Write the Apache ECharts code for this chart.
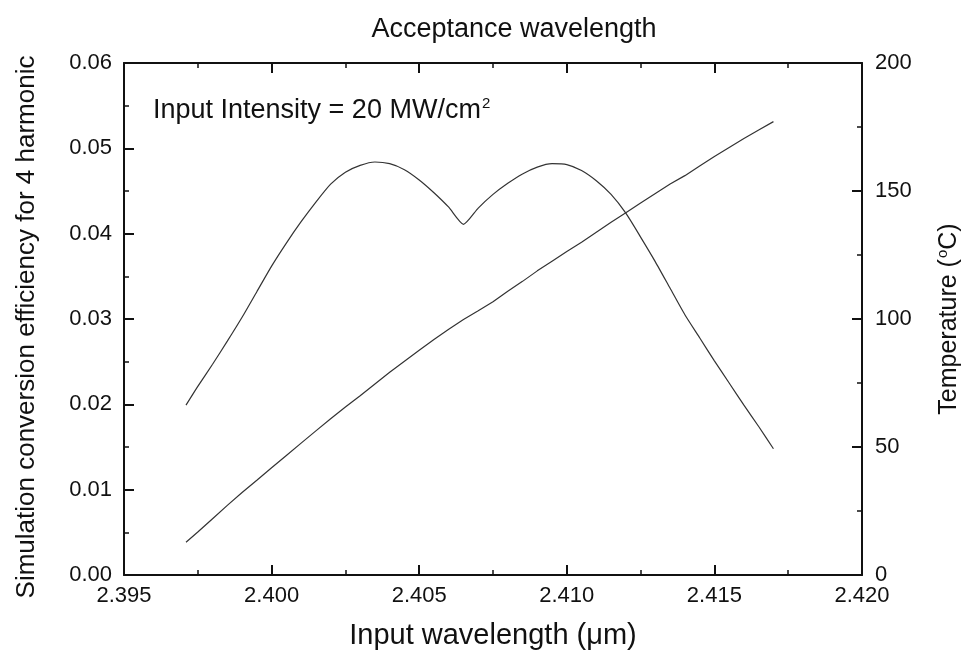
<!DOCTYPE html>
<html>
<head>
<meta charset="utf-8">
<script src="https://cdn.jsdelivr.net/npm/echarts@6/dist/echarts.min.js"></script>
<style>
  html, body { margin: 0; padding: 0; background: #fff; }
  #chart { width: 970px; height: 655px; }
</style>
</head>
<body>
<div id="chart"></div>
<script>
// data
const wavelength = [
  2.3971, 2.3975, 2.3980, 2.3985, 2.3990, 2.3995, 2.4000, 2.4005, 2.4010, 2.4015,
  2.4020, 2.4025, 2.4030, 2.4035, 2.4040, 2.4045, 2.4050, 2.4055, 2.4060, 2.4065,
  2.4070, 2.4075, 2.4080, 2.4085, 2.4090, 2.4095, 2.4100, 2.4105, 2.4110, 2.4115,
  2.4120, 2.4125, 2.4130, 2.4135, 2.4140, 2.4145, 2.4150, 2.4155, 2.4160, 2.4165,
  2.4170
];
const efficiency = [
  0.0199, 0.0221, 0.0247, 0.0274, 0.0302, 0.0332, 0.0362, 0.0389, 0.0414, 0.0437,
  0.0458, 0.0472, 0.0480, 0.0484, 0.0482, 0.0475, 0.0463, 0.0448, 0.0431, 0.0411,
  0.0430, 0.0446, 0.0459, 0.0470, 0.0478, 0.0482, 0.0481, 0.0474, 0.0462, 0.0446,
  0.0424, 0.0396, 0.0367, 0.0336, 0.0305, 0.0278, 0.0251, 0.0225, 0.0199, 0.0174,
  0.0148
];
const temperature = [
  12.8, 16.8, 22.0, 27.2, 32.2, 37.0, 41.9, 46.7, 51.5, 56.3,
  61.0, 65.6, 70.0, 74.6, 79.2, 83.5, 87.8, 92.0, 96.0, 99.8,
  103.2, 106.7, 110.8, 114.7, 118.8, 122.6, 126.4, 130.0, 133.9, 137.8,
  141.5, 145.3, 149.0, 152.7, 156.0, 159.8, 163.5, 167.0, 170.5, 173.8,
  177.1
];

const font = "'Liberation Sans', Arial, sans-serif";
const ink = '#111';

const chart = echarts.init(document.getElementById('chart'));

const axisCommon = {
  axisLine: { show: true, onZero: false, lineStyle: { color: ink, width: 2 } },
  axisTick: { show: true, inside: true, length: 10, lineStyle: { color: ink, width: 2 } },
  minorTick: { show: true, splitNumber: 2, length: 5, lineStyle: { color: ink, width: 1.5 } },
  splitLine: { show: false },
  axisLabel: { color: ink, fontSize: 22, fontFamily: font },
  nameTextStyle: { color: ink, fontSize: 27, fontFamily: font }
};
const supStyle = { fontSize: 15, verticalAlign: 'top', padding: [0, 0, 14, 1], fontFamily: font, color: ink };

const option = {
  animation: false,
  backgroundColor: '#fff',
  title: [
    {
      text: 'Acceptance wavelength',
      left: 509,
      top: 11,
      textAlign: 'center',
      textStyle: { color: ink, fontSize: 27, fontWeight: 'normal', fontFamily: font }
    },
    {
      text: 'Input Intensity = 20 MW/cm{sup|2}',
      left: 148,
      top: 91,
      textStyle: {
        color: ink, fontSize: 27, fontWeight: 'normal', fontFamily: font,
        rich: { sup: supStyle }
      }
    }
  ],
  grid: { left: 124, right: 97, top: 63, bottom: 77 },
  xAxis: [
    Object.assign({}, axisCommon, {
      type: 'value',
      min: 2.395,
      max: 2.420,
      interval: 0.005,
      name: 'Input wavelength (\u03bcm)',
      nameLocation: 'middle',
      nameGap: 46,
      nameTextStyle: Object.assign({}, axisCommon.nameTextStyle, { fontSize: 29 }),
      axisLabel: Object.assign({}, axisCommon.axisLabel, {
        margin: 10,
        formatter: (v) => v.toFixed(3)
      })
    }),
    Object.assign({}, axisCommon, {
      type: 'value',
      position: 'top',
      min: 2.395,
      max: 2.420,
      interval: 0.005,
      axisLabel: { show: false }
    })
  ],
  yAxis: [
    Object.assign({}, axisCommon, {
      type: 'value',
      min: 0,
      max: 0.06,
      interval: 0.01,
      name: 'Simulation conversion efficiency for 4 harmonic',
      nameLocation: 'middle',
      nameRotate: 90,
      nameGap: 84,
      nameTextStyle: Object.assign({}, axisCommon.nameTextStyle, {
        fontSize: 26,
        padding: [0, 16, 0, 0]
      }),
      axisLabel: Object.assign({}, axisCommon.axisLabel, {
        margin: 12,
        formatter: (v) => v.toFixed(2)
      })
    }),
    Object.assign({}, axisCommon, {
      type: 'value',
      position: 'right',
      min: 0,
      max: 200,
      interval: 50,
      name: 'Temperature ({sup|o}C)',
      nameLocation: 'middle',
      nameRotate: 90,
      nameGap: 73,
      nameTextStyle: Object.assign({}, axisCommon.nameTextStyle, {
        fontSize: 25,
        rich: { sup: supStyle }
      }),
      axisLabel: Object.assign({}, axisCommon.axisLabel, { margin: 13 })
    })
  ],
  series: [
    {
      name: 'efficiency',
      type: 'line',
      xAxisIndex: 0,
      yAxisIndex: 0,
      showSymbol: false,
      smooth: 0.2,
      lineStyle: { color: '#333', width: 1.2 },
      data: wavelength.map((w, i) => [w, efficiency[i]])
    },
    {
      name: 'temperature',
      type: 'line',
      xAxisIndex: 0,
      yAxisIndex: 1,
      showSymbol: false,
      smooth: false,
      lineStyle: { color: '#333', width: 1.2 },
      data: wavelength.map((w, i) => [w, temperature[i]])
    }
  ]
};

chart.setOption(option);
window.addEventListener('resize', () => chart.resize());
</script>
</body>
</html>
